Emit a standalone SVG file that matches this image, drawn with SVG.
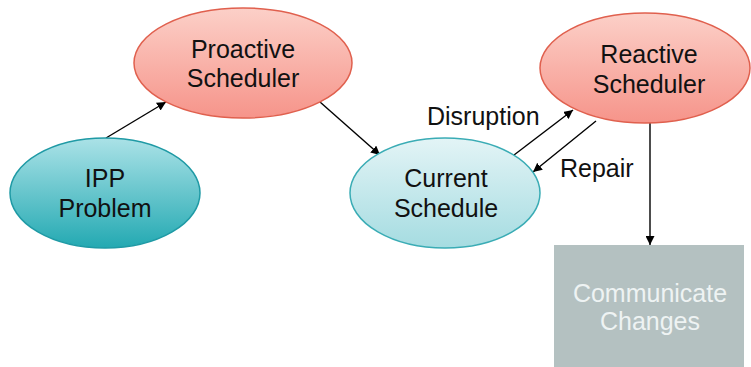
<svg xmlns="http://www.w3.org/2000/svg" width="751" height="367" viewBox="0 0 751 367">
<defs>
<linearGradient id="pink" x1="0" y1="0" x2="0" y2="1"><stop offset="0" stop-color="#fcd0c8"/><stop offset="1" stop-color="#f6948a"/></linearGradient>
<linearGradient id="teal" x1="0" y1="0" x2="0" y2="1"><stop offset="0" stop-color="#abe2e7"/><stop offset="1" stop-color="#23a9b2"/></linearGradient>
<linearGradient id="lteal" x1="0" y1="0" x2="0" y2="1"><stop offset="0" stop-color="#e3f4f6"/><stop offset="1" stop-color="#a5dce1"/></linearGradient>
<marker id="ah" viewBox="0 0 10 10" refX="10" refY="5" markerWidth="9" markerHeight="9" markerUnits="userSpaceOnUse" orient="auto"><path d="M0,0 L10,5 L0,10 z" fill="#000"/></marker>
</defs>
<style>
text{font-family:"Liberation Sans",Arial,sans-serif;font-size:25px;fill:#111;text-anchor:middle}
.c{stroke:#000;stroke-width:1.4;fill:none;marker-end:url(#ah)}
.p{fill:url(#pink);stroke:#e0604e;stroke-width:1.5}
</style>
<rect width="751" height="367" fill="#fff"/>
<g id="connectors">
<line class="c" x1="106" y1="138" x2="166" y2="102"/>
<line class="c" x1="320" y1="102" x2="380" y2="155"/>
<line class="c" x1="514" y1="155" x2="573" y2="110"/>
<line class="c" x1="596" y1="121" x2="533" y2="172"/>
<line class="c" x1="650" y1="123" x2="650" y2="245"/>
<text x="427" y="125" style="text-anchor:start">Disruption</text>
<text x="560" y="177" style="text-anchor:start">Repair</text>
</g>
<g id="proactive">
<ellipse class="p" cx="243" cy="63" rx="109" ry="55"/>
<text x="243" y="58">Proactive</text>
<text x="243" y="87">Scheduler</text>
</g>
<g id="ipp">
<ellipse cx="105" cy="193" rx="95" ry="55" fill="url(#teal)" stroke="#1f9aa5" stroke-width="1.5"/>
<text x="105" y="187">IPP</text>
<text x="105" y="217">Problem</text>
</g>
<g id="current">
<ellipse cx="445" cy="193" rx="95" ry="55" fill="url(#lteal)" stroke="#3aacb5" stroke-width="1.5"/>
<text x="446" y="187">Current</text>
<text x="446" y="217">Schedule</text>
</g>
<g id="reactive">
<ellipse class="p" cx="645" cy="68" rx="105" ry="55"/>
<text x="649" y="63">Reactive</text>
<text x="649" y="93">Scheduler</text>
</g>
<g id="communicate">
<rect x="554" y="245" width="190" height="122" fill="#b4c1c1"/>
<text x="650" y="302" style="fill:#eef3f3">Communicate</text>
<text x="650" y="330" style="fill:#eef3f3">Changes</text>
</g>
</svg>
